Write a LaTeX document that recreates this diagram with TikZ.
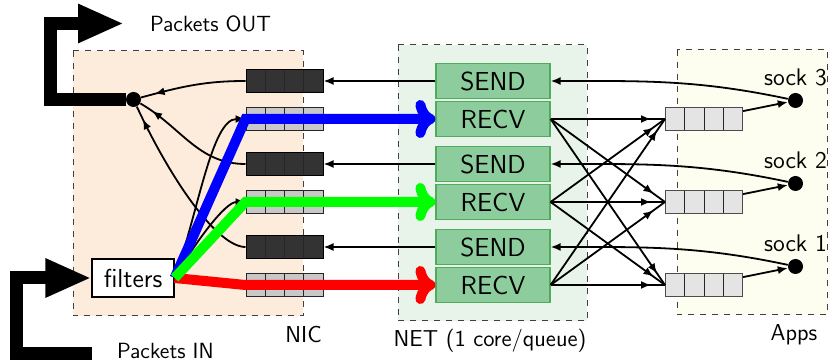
\documentclass[tikz,border=0pt]{standalone}
\usepackage{fontspec}
\usetikzlibrary{arrows.meta,decorations.markings}
\renewcommand{\familydefault}{\sfdefault}

\definecolor{nicbg}{RGB}{253,236,219}
\definecolor{netbg}{RGB}{232,243,234}
\definecolor{appbg}{RGB}{254,254,240}
\definecolor{boxfill}{RGB}{141,204,157}
\definecolor{boxline}{RGB}{78,172,92}
\definecolor{qdark}{RGB}{51,51,51}
\definecolor{qlight}{RGB}{200,200,200}
\definecolor{qapp}{RGB}{228,228,228}

\tikzset{
  area/.style={draw=black!75, dashed, line width=0.5pt},
  netbox/.style={draw=boxline, fill=boxfill, line width=0.6pt, minimum width=57pt,
    minimum height=17.5pt, inner sep=0pt, font=\sffamily\fontsize{13}{15}\selectfont},
  queue/.style={draw=black!85, line width=0.5pt, minimum width=38.5pt, minimum height=11.5pt,
    inner sep=0pt, path picture={\foreach \k in {1,2,3}
      \draw[black!85, line width=0.5pt] ([xshift=\k*9.625pt]path picture bounding box.south west)
        -- ([xshift=\k*9.625pt]path picture bounding box.north west);}},
  sockdot/.style={circle, fill=black, inner sep=0pt, minimum size=7.5pt},
  arr/.style={line width=0.9pt, -{Latex[length=5pt,width=4pt]}},
  midarr/.style={line width=0.9pt, postaction={decorate}, decoration={markings,
    mark=at position -7pt with {\arrow{Latex[length=5pt,width=4pt]}}}},
  flow/.style={line width=5pt, -{Computer Modern Rightarrow[length=10pt,width=19pt,line cap=round]}},
  bigarrow/.style={line width=6.5pt, -{Triangle[length=23pt,width=18pt]}},
  lbl/.style={font=\sffamily\fontsize{11.5}{13}\selectfont}
}

\begin{document}
\begin{tikzpicture}[x=0.5pt,y=-0.5pt,font=\sffamily]
  \useasboundingbox (0,0) rectangle (829,362);

  % the three areas
  \draw[area, fill=nicbg] (73,51) rectangle (303,316);
  \draw[area, fill=netbg] (398,45) rectangle (587,321);
  \draw[area, fill=appbg] (677,50) rectangle (827.5,315);
  \node[lbl] (niclbl) at (303.5,335) {NIC};
  \node[lbl] (netlbl) at (490,341) {NET (1 core/queue)};
  \node[lbl] (applbl) at (794,335) {Apps};

  % queues and send/recv threads
  \foreach \i/\y in {1/81,2/164,3/247} {
    \node[netbox] (send\i) at (493,\y) {SEND};
    \node[netbox] (recv\i) at (493,\y+38) {RECV};
    \node[queue, fill=qdark, draw=black] (dq\i) at (284.5,\y) {};
    \node[queue, fill=qlight] (lq\i) at (284.5,\y+38) {};
    \node[queue, fill=qapp, draw=black!70] (aq\i) at (704,\y+38) {};
  }

  % sockets
  \foreach \i/\s/\y in {1/3/100.5,2/2/183.5,3/1/266.5} {
    \node[sockdot] (sock\i) at (795.5,\y) {};
    \node[font=\sffamily\fontsize{12}{14}\selectfont, anchor=south, inner sep=3pt] (socklbl\i) at (sock\i.north) {sock \s};
  }

  \node[sockdot] (outdot) at (133.5,99.5) {};
  \node[draw, fill=white, line width=0.6pt, minimum width=41pt, minimum height=19pt, inner sep=0pt,
    font=\sffamily\fontsize{13}{15}\selectfont] (filters) at (133,278) {filters};

  % packets in and out
  \coordinate (outbend) at (50,23.5);
  \coordinate (outend) at (124,23.5);
  \coordinate (instart) at (92,353.5);
  \coordinate (inbend) at (16.7,278);
  \draw[bigarrow] (outdot.west) -| (outbend) -- (outend);
  \draw[bigarrow] (instart) -| (inbend) -- (filters.west);
  \node[anchor=west, font=\sffamily\fontsize{11}{13}\selectfont] (outlbl) at ([xshift=9.5pt]outend) {Packets OUT};
  \node[anchor=west, font=\sffamily\fontsize{11}{13}\selectfont] (inlbl) at ([xshift=9pt,yshift=1.5pt]instart) {Packets IN};

  \foreach \i in {1,2,3} {
    \draw[arr] (send\i) -- (dq\i);
    \draw[arr] (sock\i) to[out=168,in=0] (send\i.east);
    \draw[arr] (aq\i) -- (sock\i);
    \foreach \j in {1,2,3}
      \draw[midarr] (recv\i.east) -- (aq\j.west);
  }

  % inside the NIC
  \draw[midarr] (dq1.west) to[out=180,in=15] (outdot);
  \draw[midarr] (dq2.west) to[out=180,in=-30] (outdot);
  \draw[midarr] (dq3.west) to[out=180,in=-65,out looseness=0.4,in looseness=1.2] (outdot);
  \draw[arr] (filters.east) to[out=70,in=180,in looseness=0.5] (lq1.west);
  \draw[arr] (filters.east) to[out=60,in=180,in looseness=0.5] (lq2.west);

  % flows
  \draw[flow, red] (filters.east) -- (lq3.west) -- (recv3.west);
  \draw[flow, blue] (filters.east) -- (lq1.west) -- (recv1.west);
  \draw[flow, green] (filters.east) -- (lq2.west) -- (recv2.west);
\end{tikzpicture}
\end{document}
